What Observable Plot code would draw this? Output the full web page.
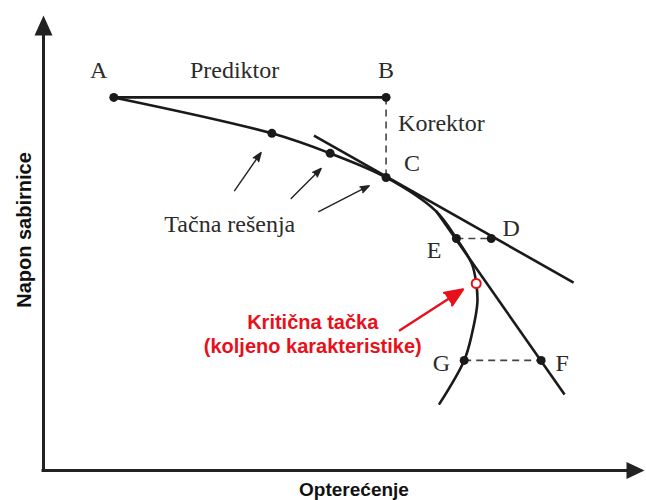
<!DOCTYPE html>
<html><head><meta charset="utf-8">
<script src="https://cdn.jsdelivr.net/npm/d3@7"></script>
<script src="https://cdn.jsdelivr.net/npm/@observablehq/plot@0.6"></script>
<style>body{margin:0;background:#fff} #chart{width:646px;height:500px}</style>
</head><body><div id="chart"></div>
<script>
// Axis domains (arbitrary units: load on x, bus voltage on y)
const xDomain = [0, 100];
const yDomain = [0, 100];

// PV curve (nose curve)
const curveX = [11.7, 38.0, 47.7, 57.0, 65.3, 68.7, 71.3, 72.0, 72.2, 71.3, 70.0, 65.9];
const curveY = [82.0, 74.1, 69.7, 64.4, 57.0, 51.0, 45.3, 41.1, 37.0, 30.1, 24.2, 14.7];

// Named points
const pointNames = ["A", "B", "C", "D", "E", "F", "G"];
const pointX = [11.7, 57.0, 57.0, 74.5, 68.7, 82.8, 70.0];
const pointY = [82.0, 82.0, 64.4, 51.0, 51.0, 24.2, 24.2];

// Exact solutions (unnamed dots on the curve)
const solutionX = [38.0, 47.7];
const solutionY = [74.1, 69.7];

// Critical point (knee of the characteristic)
const criticalX = [72.0];
const criticalY = [41.1];

// Predictor steps (solid) : A→B, tangent at C, tangent at E
const predX1 = [11.7, 45.0, 65.3];
const predY1 = [82.0, 73.6, 57.1];
const predX2 = [57.0, 88.2, 86.7];
const predY2 = [82.0, 41.3, 16.7];

// Corrector steps (dashed): B→C, E–D, G–F
const corrX1 = [57.0, 68.7, 70.0];
const corrY1 = [82.0, 51.0, 24.2];
const corrX2 = [57.0, 74.5, 82.8];
const corrY2 = [64.4, 51.0, 24.2];

// "Tačna rešenja" pointer arrows
const arrX1 = [31.8, 41.2, 45.8];
const arrY1 = [61.5, 59.8, 56.9];
const arrX2 = [36.2, 46.2, 54.2];
const arrY2 = [69.9, 66.4, 62.6];

// Red pointer arrow to the critical point
const redArrX1 = [59.3], redArrY1 = [30.8], redArrX2 = [69.8], redArrY2 = [39.8];

// Serif labels
const labelText = ["A", "Prediktor", "B", "C", "D", "E", "F", "G", "Tačna rešenja"];
const labelX = [9.17, 31.8, 57.0, 61.3, 77.8, 65.0, 86.3, 66.2, 31.0];
const labelY = [86.2, 86.2, 86.2, 65.9, 51.6, 46.6, 21.8, 21.8, 52.5];
const korektorText = ["Korektor"];
const korektorX = [59.0], korektorY = [74.7];

const criticalText = ["Kritična tačka\n(koljeno karakteristike)"];
const criticalTextX = [44.8], criticalTextY = [25.9];

const xTitle = "Opterećenje";
const yTitle = "Napon sabirnice";

// ---- build tables ----
const curve = curveX.map((x, i) => ({x, y: curveY[i]}));
const points = pointNames.map((n, i) => ({n, x: pointX[i], y: pointY[i]}));
const solutions = solutionX.map((x, i) => ({x, y: solutionY[i]}));
const critical = criticalX.map((x, i) => ({x, y: criticalY[i]}));
const seg = (X1, Y1, X2, Y2) => X1.map((x1, i) => ({x1, y1: Y1[i], x2: X2[i], y2: Y2[i]}));
const predictors = seg(predX1, predY1, predX2, predY2);
const correctors = seg(corrX1, corrY1, corrX2, corrY2);
const arrows = seg(arrX1, arrY1, arrX2, arrY2);
const redArrows = seg(redArrX1, redArrY1, redArrX2, redArrY2);
const labels = labelText.map((t, i) => ({t, x: labelX[i], y: labelY[i]}));
const korektor = korektorText.map((t, i) => ({t, x: korektorX[i], y: korektorY[i]}));
const critLabel = criticalText.map((t, i) => ({t, x: criticalTextX[i], y: criticalTextY[i]}));

// filled arrowhead symbols (tip at the anchor point)
const headUp = {draw(ctx) { ctx.moveTo(0, 0); ctx.lineTo(9, 20); ctx.lineTo(-9, 20); ctx.closePath(); }};
const headRight = {draw(ctx) { ctx.moveTo(0, 0); ctx.lineTo(-18, 8.5); ctx.lineTo(-18, -8.5); ctx.closePath(); }};

const serif = "'Liberation Serif', 'Times New Roman', Times, serif";
const sans = "'Liberation Sans', Arial, Helvetica, sans-serif";
const ink = "#1a1a1a";
const red = "#e8101a";

const chart = Plot.plot({
  width: 646,
  height: 500,
  marginLeft: 43,
  marginRight: 2,
  marginTop: 15,
  marginBottom: 30,
  x: {domain: xDomain, axis: null},
  y: {domain: yDomain, axis: null},
  style: {background: "white", overflow: "visible"},
  marks: [
    // axes with arrows
    Plot.ruleY([yDomain[0]], {x1: xDomain[0], x2: xDomain[1] * 0.97, stroke: "#222", strokeWidth: 3, strokeLinecap: "square"}),
    Plot.ruleX([xDomain[0]], {y1: yDomain[0], y2: yDomain[1] * 0.96, stroke: "#222", strokeWidth: 3, strokeLinecap: "square"}),
    Plot.dot([{x: xDomain[0], y: yDomain[1]}], {x: "x", y: "y", symbol: headUp, fill: "#222", stroke: "none"}),
    Plot.dot([{x: xDomain[1], y: yDomain[0]}], {x: "x", y: "y", symbol: headRight, fill: "#222", stroke: "none"}),

    // corrector (dashed)
    Plot.link(correctors, {x1: "x1", y1: "y1", x2: "x2", y2: "y2", stroke: "#444", strokeWidth: 1.6, strokeDasharray: "7,5"}),
    // predictor (solid)
    Plot.link(predictors, {x1: "x1", y1: "y1", x2: "x2", y2: "y2", stroke: ink, strokeWidth: 2.6}),
    // PV curve
    Plot.line(curve, {x: "x", y: "y", curve: "catmull-rom", stroke: ink, strokeWidth: 2.6}),

    // pointer arrows (filled heads)
    Plot.arrow(arrows, {x1: "x1", y1: "y1", x2: "x2", y2: "y2", stroke: "#222", fill: "#222", strokeWidth: 1.4, headLength: 10, headAngle: 40}),
    Plot.arrow(redArrows, {x1: "x1", y1: "y1", x2: "x2", y2: "y2", stroke: red, fill: red, strokeWidth: 2.4, headLength: 12, headAngle: 45}),

    // dots
    Plot.dot(points, {x: "x", y: "y", r: 4.5, fill: ink, stroke: "none"}),
    Plot.dot(solutions, {x: "x", y: "y", r: 4.5, fill: ink, stroke: "none"}),
    Plot.dot(critical, {x: "x", y: "y", r: 4.5, fill: "white", stroke: red, strokeWidth: 2}),

    // labels
    Plot.text(labels, {x: "x", y: "y", text: "t", fontFamily: serif, fontSize: 24, fill: "#2b2b2b", textAnchor: "middle", lineAnchor: "bottom"}),
    Plot.text(korektor, {x: "x", y: "y", text: "t", fontFamily: serif, fontSize: 24, fill: "#2b2b2b", textAnchor: "start", lineAnchor: "bottom"}),
    Plot.text(critLabel, {x: "x", y: "y", text: "t", fontFamily: sans, fontWeight: "bold", fontSize: 20, fill: red, textAnchor: "middle", lineAnchor: "bottom", lineHeight: 1.2}),

    // axis titles
    Plot.text([xTitle], {frameAnchor: "bottom", text: d => d, dx: 10, dy: 25, fontFamily: sans, fontWeight: "bold", fontSize: 19, fill: "#111", textAnchor: "middle", lineAnchor: "bottom"}),
    Plot.text([yTitle], {frameAnchor: "left", text: d => d, rotate: -90, dx: -13, dy: -13, fontFamily: sans, fontWeight: "bold", fontSize: 20, fill: "#111", textAnchor: "middle", lineAnchor: "bottom"})
  ]
});
document.getElementById("chart").appendChild(chart);
</script>
</body></html>
